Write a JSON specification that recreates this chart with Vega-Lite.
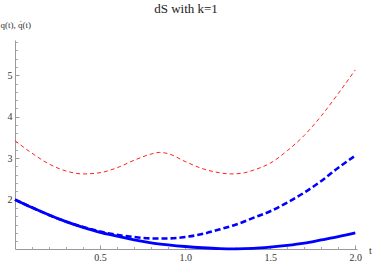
{
  "$schema": "https://vega.github.io/schema/vega-lite/v6.json",
  "width": 342,
  "height": 209,
  "autosize": "none",
  "padding": {"left": 15, "top": 40, "right": 17, "bottom": 14},
  "background": "white",
  "title": {"text": "dS with k=1", "frame": "group", "anchor": "middle", "orient": "top", "baseline": "middle", "offset": -2, "font": "Liberation Serif", "fontSize": 13, "fontWeight": "normal", "color": "#222222"},
  "config": {"view": {"stroke": null}},
  "data": {"values": [
    {"t": 0.0, "v": 2.0, "s": "q"},
    {"t": 0.1, "v": 1.81, "s": "q"},
    {"t": 0.2, "v": 1.63, "s": "q"},
    {"t": 0.3, "v": 1.47, "s": "q"},
    {"t": 0.4, "v": 1.33, "s": "q"},
    {"t": 0.5, "v": 1.21, "s": "q"},
    {"t": 0.6, "v": 1.12, "s": "q"},
    {"t": 0.7, "v": 1.03, "s": "q"},
    {"t": 0.8, "v": 0.96, "s": "q"},
    {"t": 0.9, "v": 0.91, "s": "q"},
    {"t": 1.0, "v": 0.87, "s": "q"},
    {"t": 1.1, "v": 0.84, "s": "q"},
    {"t": 1.2, "v": 0.82, "s": "q"},
    {"t": 1.3, "v": 0.815, "s": "q"},
    {"t": 1.4, "v": 0.825, "s": "q"},
    {"t": 1.5, "v": 0.855, "s": "q"},
    {"t": 1.6, "v": 0.895, "s": "q"},
    {"t": 1.7, "v": 0.95, "s": "q"},
    {"t": 1.8, "v": 1.03, "s": "q"},
    {"t": 1.9, "v": 1.11, "s": "q"},
    {"t": 2.0, "v": 1.2, "s": "q"},
    {"t": 0.0, "v": 2.0, "s": "qd"},
    {"t": 0.1, "v": 1.81, "s": "qd"},
    {"t": 0.2, "v": 1.63, "s": "qd"},
    {"t": 0.3, "v": 1.47, "s": "qd"},
    {"t": 0.4, "v": 1.34, "s": "qd"},
    {"t": 0.5, "v": 1.23, "s": "qd"},
    {"t": 0.6, "v": 1.15, "s": "qd"},
    {"t": 0.7, "v": 1.1, "s": "qd"},
    {"t": 0.8, "v": 1.065, "s": "qd"},
    {"t": 0.9, "v": 1.065, "s": "qd"},
    {"t": 1.0, "v": 1.1, "s": "qd"},
    {"t": 1.1, "v": 1.17, "s": "qd"},
    {"t": 1.2, "v": 1.28, "s": "qd"},
    {"t": 1.3, "v": 1.4, "s": "qd"},
    {"t": 1.4, "v": 1.56, "s": "qd"},
    {"t": 1.5, "v": 1.72, "s": "qd"},
    {"t": 1.6, "v": 1.93, "s": "qd"},
    {"t": 1.7, "v": 2.17, "s": "qd"},
    {"t": 1.8, "v": 2.45, "s": "qd"},
    {"t": 1.9, "v": 2.77, "s": "qd"},
    {"t": 2.0, "v": 3.06, "s": "qd"},
    {"t": 0.0, "v": 3.42, "s": "p"},
    {"t": 0.1, "v": 3.12, "s": "p"},
    {"t": 0.2, "v": 2.86, "s": "p"},
    {"t": 0.3, "v": 2.69, "s": "p"},
    {"t": 0.4, "v": 2.62, "s": "p"},
    {"t": 0.5, "v": 2.65, "s": "p"},
    {"t": 0.6, "v": 2.77, "s": "p"},
    {"t": 0.7, "v": 2.95, "s": "p"},
    {"t": 0.8, "v": 3.1, "s": "p"},
    {"t": 0.85, "v": 3.14, "s": "p"},
    {"t": 0.9, "v": 3.11, "s": "p"},
    {"t": 1.0, "v": 2.92, "s": "p"},
    {"t": 1.1, "v": 2.75, "s": "p"},
    {"t": 1.2, "v": 2.65, "s": "p"},
    {"t": 1.27, "v": 2.62, "s": "p"},
    {"t": 1.35, "v": 2.65, "s": "p"},
    {"t": 1.4, "v": 2.71, "s": "p"},
    {"t": 1.5, "v": 2.88, "s": "p"},
    {"t": 1.6, "v": 3.18, "s": "p"},
    {"t": 1.7, "v": 3.55, "s": "p"},
    {"t": 1.8, "v": 4.02, "s": "p"},
    {"t": 1.9, "v": 4.56, "s": "p"},
    {"t": 2.0, "v": 5.13, "s": "p"}
  ]},
  "layer": [
    {
      "transform": [{"filter": "datum.s === 'p'"}],
      "mark": {"type": "line", "color": "#ff2020", "strokeWidth": 1, "strokeDash": [4, 3], "interpolate": "monotone"},
      "encoding": {
        "x": {"field": "t", "type": "quantitative", "scale": {"domain": [0, 2.01], "nice": false, "zero": false},
          "axis": {"orient": "bottom", "values": [0.5, 1, 1.5, 2], "format": ".1f", "ticks": false, "grid": false, "domain": true, "domainColor": "#999999", "domainWidth": 1, "labelFont": "Liberation Serif", "labelFontSize": 10, "labelColor": "#333333", "labelPadding": 3, "title": "t", "titleFont": "Liberation Serif", "titleFontSize": 10, "titleFontWeight": "normal", "titleColor": "#333333", "titleX": 355, "titleY": 1, "titleAlign": "center", "titleBaseline": "middle", "titleAngle": 0}},
        "y": {"field": "v", "type": "quantitative", "scale": {"domain": [0.81, 5.85], "nice": false, "zero": false},
          "axis": {"orient": "left", "values": [2, 3, 4, 5], "ticks": false, "grid": false, "domain": true, "domainColor": "#999999", "domainWidth": 1, "labelFont": "Liberation Serif", "labelFontSize": 10, "labelColor": "#333333", "labelPadding": 3, "title": "q(t), q̇(t)", "titleFont": "Liberation Serif", "titleFontSize": 9, "titleFontWeight": "normal", "titleColor": "#333333", "titleAngle": 0, "titleX": -15, "titleY": -16, "titleAlign": "left", "titleBaseline": "middle"}}
      }
    },
    {
      "transform": [{"filter": "datum.s === 'qd'"}],
      "mark": {"type": "line", "color": "#0000ff", "strokeWidth": 2.6, "strokeDash": [6, 3], "interpolate": "monotone"},
      "encoding": {
        "x": {"field": "t", "type": "quantitative",
          "axis": {"orient": "bottom", "values": [0.5, 1, 1.5, 2], "ticks": true, "tickSize": -4, "tickColor": "#999999", "labels": false, "domain": false, "grid": false, "title": null}},
        "y": {"field": "v", "type": "quantitative",
          "axis": {"orient": "left", "values": [2, 3, 4, 5], "ticks": true, "tickSize": -4, "tickColor": "#999999", "labels": false, "domain": false, "grid": false, "title": null}}
      }
    },
    {
      "transform": [{"filter": "datum.s === 'q'"}],
      "mark": {"type": "line", "color": "#0000ff", "strokeWidth": 2.8, "interpolate": "monotone"},
      "encoding": {
        "x": {"field": "t", "type": "quantitative",
          "axis": {"orient": "bottom", "values": [0.1, 0.2, 0.3, 0.4, 0.6, 0.7, 0.8, 0.9, 1.1, 1.2, 1.3, 1.4, 1.6, 1.7, 1.8, 1.9], "ticks": true, "tickSize": -2.5, "tickColor": "#aaaaaa", "labels": false, "domain": false, "grid": false, "title": null}},
        "y": {"field": "v", "type": "quantitative",
          "axis": {"orient": "left", "values": [1.0, 1.2, 1.4, 1.6, 1.8, 2.2, 2.4, 2.6, 2.8, 3.2, 3.4, 3.6, 3.8, 4.2, 4.4, 4.6, 4.8, 5.2, 5.4, 5.6, 5.8], "ticks": true, "tickSize": -2.5, "tickColor": "#aaaaaa", "labels": false, "domain": false, "grid": false, "title": null}}
      }
    }
  ],
  "resolve": {"axis": {"x": "independent", "y": "independent"}}
}
